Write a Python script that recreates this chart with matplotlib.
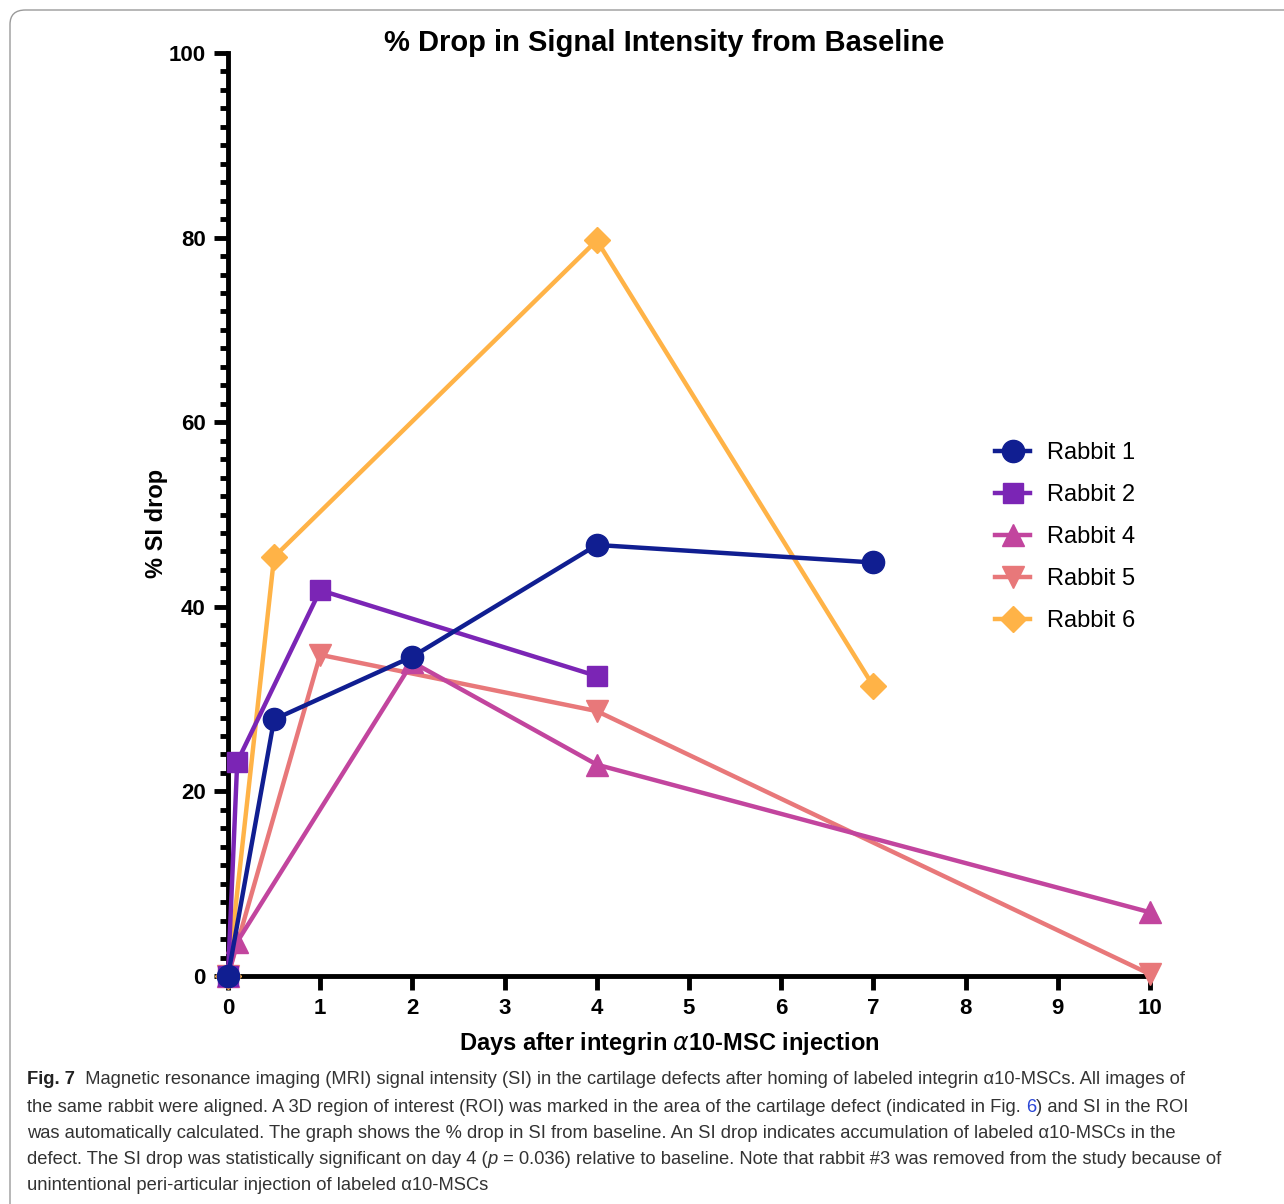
import numpy as np
import matplotlib
matplotlib.use('Agg')
import matplotlib.pyplot as plt
from matplotlib.patches import FancyBboxPatch
from matplotlib.text import Annotation
from matplotlib.ticker import MultipleLocator

plt.rcParams['font.family'] = ['Liberation Sans', 'DejaVu Sans']

# data (% SI drop vs days)
days_r1 = [0, 0.5, 2, 4, 7]
drop_r1 = [0, 27.8, 34.6, 46.7, 44.8]
days_r2 = [0, 0.1, 1, 4]
drop_r2 = [0, 23.2, 41.8, 32.5]
days_r4 = [0, 0.1, 2, 4, 10]
drop_r4 = [0, 3.7, 34.0, 22.9, 6.9]
days_r5 = [0, 1, 4, 10]
drop_r5 = [0, 34.8, 28.7, 0.2]
days_r6 = [0, 0.5, 4, 7]
drop_r6 = [0, 45.4, 79.7, 31.4]

labels = ['Rabbit 1', 'Rabbit 2', 'Rabbit 4', 'Rabbit 5', 'Rabbit 6']
colors = ['#101e91', '#7b25b5', '#c2459e', '#e8787a', '#ffb347']
markers = ['o', 's', '^', 'v', 'D']
msizes = [16, 15, 16, 16, 13]

fig = plt.figure(figsize=(12.84, 12.04), dpi=100)
ax = fig.add_axes([228/1284, 1 - 976/1204, (1150-228)/1284, (976-53)/1204])

series = [(days_r1, drop_r1), (days_r2, drop_r2), (days_r4, drop_r4),
          (days_r5, drop_r5), (days_r6, drop_r6)]
for i, (x, y) in enumerate(series):
    ax.plot(x, y, color=colors[i], marker=markers[i], markersize=msizes[i],
            linewidth=3.2, label=labels[i], clip_on=False, zorder=10 - i)

ax.set_xlim(0, 10)
ax.set_ylim(0, 100)
ax.set_xticks(np.arange(0, 11, 1))
ax.yaxis.set_major_locator(MultipleLocator(20))
ax.yaxis.set_minor_locator(MultipleLocator(2))
for s in ['top', 'right']:
    ax.spines[s].set_visible(False)
for s in ['left', 'bottom']:
    ax.spines[s].set_linewidth(3.5)
ax.tick_params(which='major', length=10, width=3.5, labelsize=16, pad=6)
ax.tick_params(which='minor', length=6, width=3.5)
for lab in ax.get_xticklabels() + ax.get_yticklabels():
    lab.set_fontweight('bold')

ax.set_xlabel(r'Days after integrin $\alpha$10-MSC injection', fontsize=17,
              fontweight='bold')
ax.xaxis.set_label_coords((669 - 228) / 922, -0.059)
ax.set_ylabel('% SI drop', fontsize=17, fontweight='bold')
ax.yaxis.set_label_coords(-0.065, 0.49)

fig.text(664/1284, 1 - 43/1204, '% Drop in Signal Intensity from Baseline',
         fontsize=21, fontweight='bold', ha='center', va='center')

ax.legend(loc='upper left', bbox_to_anchor=(983/1284, 1 - 430/1204),
          bbox_transform=fig.transFigure, frameon=False, fontsize=17,
          handlelength=1.5, handletextpad=0.7, labelspacing=0.85, borderpad=0)

# border around the figure panel
box = FancyBboxPatch((10/1284, -0.05), 1.2, 1 - 10/1204 + 0.05,
                     boxstyle='round,pad=0,rounding_size=0.012',
                     transform=fig.transFigure, facecolor='none',
                     edgecolor='#9a9a9a', linewidth=1, clip_on=False)
fig.patches.append(box)

# caption
cap_font = ['Liberation Sans', 'DejaVu Sans']
cap_size = 13.2
cap_color = '#333333'
line_y = [1080, 1107, 1133, 1160, 1186]

caption_lines = [
    [('Fig. 7', dict(fontweight='bold', color='#222222')),
     ('  Magnetic resonance imaging (MRI) signal intensity (SI) in the cartilage defects after homing of labeled integrin α10-MSCs. All images of', {})],
    [('the same rabbit were aligned. A 3D region of interest (ROI) was marked in the area of the cartilage defect (indicated in Fig. ', {}),
     ('6', dict(color='#2b46d6')),
     (') and SI in the ROI', {})],
    [('was automatically calculated. The graph shows the % drop in SI from baseline. An SI drop indicates accumulation of labeled α10-MSCs in the', {})],
    [('defect. The SI drop was statistically significant on day 4 (', {}),
     ('p', dict(style='italic')),
     (' = 0.036) relative to baseline. Note that rabbit #3 was removed from the study because of', {})],
    [('unintentional peri-articular injection of labeled α10-MSCs', {})],
]

for pieces, y in zip(caption_lines, line_y):
    prev = None
    for txt, kw in pieces:
        style = dict(fontsize=cap_size, color=cap_color, family=cap_font, va='center')
        style.update(kw)
        if prev is None:
            prev = fig.text(27/1284, 1 - y/1204, txt, ha='left', **style)
        else:
            prev = fig.add_artist(Annotation(txt, xy=(1, 0.5), xycoords=prev,
                                             ha='left', **style))

fig.savefig('out.png', dpi=100)
